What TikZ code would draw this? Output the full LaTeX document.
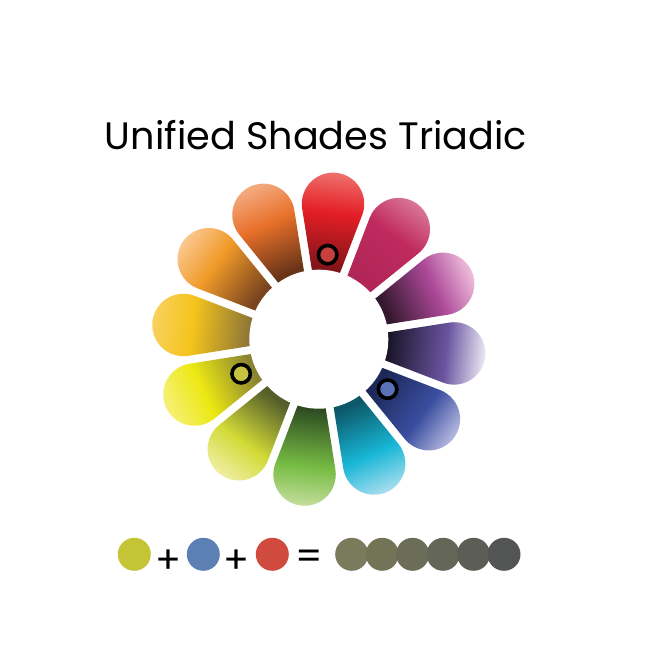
\documentclass[tikz,border=0pt]{standalone}
\usepackage{fontspec}
\setmainfont{Poppins}
% petal colours: inner, middle, outer
\definecolor{redin}{HTML}{7C1418}\definecolor{redmid}{HTML}{E41E26}\definecolor{redout}{HTML}{EF7470}
\definecolor{crimin}{HTML}{B02656}\definecolor{crimmid}{HTML}{C02A5E}\definecolor{crimout}{HTML}{D87494}
\definecolor{magin}{HTML}{34182E}\definecolor{magmid}{HTML}{AE4A9A}\definecolor{magout}{HTML}{EAB8D6}
\definecolor{purin}{HTML}{181426}\definecolor{purmid}{HTML}{6A54A0}\definecolor{purout}{HTML}{F4F2F8}
\definecolor{bluin}{HTML}{1C2858}\definecolor{blumid}{HTML}{3A4EA0}\definecolor{bluout}{HTML}{B4B8DE}
\definecolor{cyain}{HTML}{0C5868}\definecolor{cyamid}{HTML}{18B6D6}\definecolor{cyaout}{HTML}{A0DCEE}
\definecolor{grein}{HTML}{2C4820}\definecolor{gremid}{HTML}{76BC44}\definecolor{greout}{HTML}{C8E0A0}
\definecolor{ygrin}{HTML}{545E2A}\definecolor{ygrmid}{HTML}{D2DA36}\definecolor{ygrout}{HTML}{EEEEA0}
\definecolor{yelin}{HTML}{8A8432}\definecolor{yelmid}{HTML}{ECE812}\definecolor{yelout}{HTML}{F6F070}
\definecolor{golin}{HTML}{8A7436}\definecolor{golmid}{HTML}{F5C41C}\definecolor{golout}{HTML}{F9D262}
\definecolor{orain}{HTML}{7A4420}\definecolor{oramid}{HTML}{F09A28}\definecolor{oraout}{HTML}{FAC68C}
\definecolor{ordin}{HTML}{683418}\definecolor{ordmid}{HTML}{E8702A}\definecolor{ordout}{HTML}{F3A87C}
% marker and result colours
\definecolor{markred}{HTML}{C8403E}\definecolor{markyel}{HTML}{C8C442}\definecolor{markblu}{HTML}{5A72B8}
\definecolor{dotyel}{HTML}{C4C436}\definecolor{dotblu}{HTML}{5C80B4}\definecolor{dotred}{HTML}{D04A3E}
\definecolor{shade1}{HTML}{7A7A5C}\definecolor{shade2}{HTML}{737358}\definecolor{shade3}{HTML}{6B6D58}
\definecolor{shade4}{HTML}{646657}\definecolor{shade5}{HTML}{5C5E56}\definecolor{shade6}{HTML}{535554}
\colorlet{pin}{black}\colorlet{pmid}{gray}\colorlet{pout}{white}
\pgfdeclareverticalshading[pin,pmid,pout]{petal}{100bp}{color(0bp)=(pin); color(27bp)=(pin); color(55bp)=(pmid); color(75bp)=(pout); color(100bp)=(pout)}
\newcommand{\petal}[4]{%
  \colorlet{pin}{#2}\colorlet{pmid}{#3}\colorlet{pout}{#4}%
  \pgfmathsetmacro{\petalangle}{#1-90}%
  \shade[shading=petal, shading angle=\petalangle, rotate=#1]
    (62.86,-12.70) -- (127.99,-30.16) arc[start angle=-105, end angle=105, radius=31.22]
    -- (62.86,12.70) -- cycle;
}
\tikzset{
  title/.style={font=\fontsize{38.2}{38.2}\selectfont, anchor=base, inner sep=0pt},
  sign/.style={font=\fontsize{38}{38}\selectfont, inner sep=0pt},
  marker/.style={circle, draw=black, line width=3.6pt, minimum size=18.4pt, inner sep=0pt},
  dot/.style={circle, minimum size=33pt, inner sep=0pt}
}
\begin{document}
\begin{tikzpicture}[x=1pt, y=1pt]
  \useasboundingbox[fill=white] (0,0) rectangle (650,670);
  \node[title] (title) at (316,520.7) {Unified Shades Triadic};
  % wheel
  \begin{scope}[shift={(318.8,330.8)}]
    \petal{84}{redin}{redmid}{redout}
    \petal{54}{crimin}{crimmid}{crimout}
    \petal{24}{magin}{magmid}{magout}
    \petal{-6}{purin}{purmid}{purout}
    \petal{-36}{bluin}{blumid}{bluout}
    \petal{-66}{cyain}{cyamid}{cyaout}
    \petal{-96}{grein}{gremid}{greout}
    \petal{-126}{ygrin}{ygrmid}{ygrout}
    \petal{-156}{yelin}{yelmid}{yelout}
    \petal{174}{golin}{golmid}{golout}
    \petal{144}{orain}{oramid}{oraout}
    \petal{114}{ordin}{ordmid}{ordout}
    \fill[white] (0,0) circle (69.5);
    \node[marker, fill=markred] (mred) at (84:85) {};
    \node[marker, fill=markyel] (myel) at (204:85) {};
    \node[marker, fill=markblu] (mblu) at (324:85) {};
  \end{scope}
  % mix
  \node[dot, fill=dotyel] (yel) at (134.3,115.7) {};
  \node[sign] (plus1) at (168.3,108.3) {+};
  \node[dot, fill=dotblu] (blu) at (203.3,115.7) {};
  \node[sign] (plus2) at (236.7,108.3) {+};
  \node[dot, fill=dotred] (red) at (272.3,115.7) {};
  \node[sign] (equal) at (309.3,110) {=};
  \node[dot, fill=shade1] (s1) at (351.7,115.7) {};
  \node[dot, fill=shade2] (s2) at (382.2,115.7) {};
  \node[dot, fill=shade3] (s3) at (412.6,115.7) {};
  \node[dot, fill=shade4] (s4) at (443.1,115.7) {};
  \node[dot, fill=shade5] (s5) at (473.5,115.7) {};
  \node[dot, fill=shade6] (s6) at (504.0,115.7) {};
\end{tikzpicture}
\end{document}
